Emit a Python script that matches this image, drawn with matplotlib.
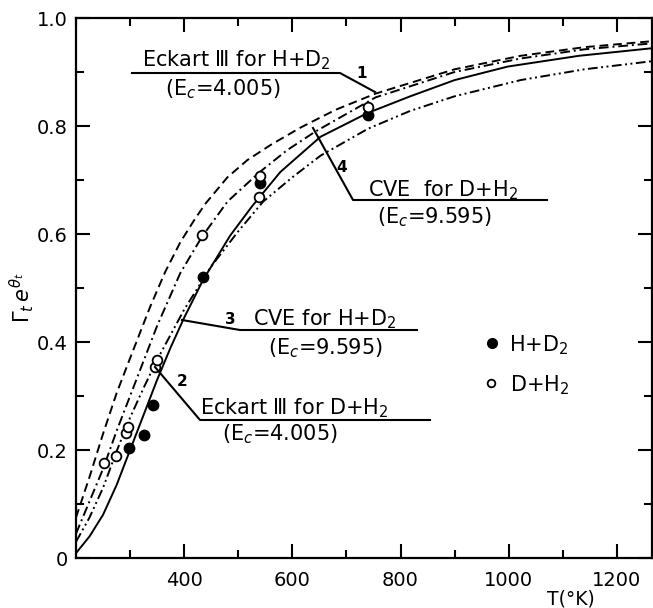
import numpy as np
import matplotlib.pyplot as plt
from matplotlib.ticker import MultipleLocator

# --- dane ---
# krzywa 1: Eckart III dla H+D2 (kreskowana)
T1 = [200, 225, 250, 275, 300, 337, 365, 393, 420, 440, 480, 517, 560, 615, 680, 754, 900, 1022, 1140, 1265]
G1 = [0.075, 0.15, 0.23, 0.305, 0.37, 0.465, 0.53, 0.585, 0.628, 0.657, 0.705, 0.737, 0.765, 0.797, 0.83, 0.86, 0.905, 0.93, 0.946, 0.957]

# krzywa 4: CVE dla D+H2 (kreska-kropka)
T4 = [200, 225, 250, 275, 300, 325, 350, 393, 433, 480, 540, 590, 643, 754, 900, 1022, 1140, 1265]
G4 = [0.045, 0.105, 0.165, 0.235, 0.3, 0.365, 0.43, 0.528, 0.595, 0.66, 0.715, 0.755, 0.79, 0.853, 0.9, 0.925, 0.942, 0.953]

# krzywa 2: Eckart III dla D+H2 (kreska-kropka-kropka)
T2 = [200, 225, 250, 276, 300, 325, 350, 400, 450, 500, 546, 600, 652, 740, 818, 900, 1022, 1140, 1265]
G2 = [0.03, 0.075, 0.13, 0.2, 0.26, 0.315, 0.367, 0.46, 0.54, 0.605, 0.66, 0.705, 0.745, 0.795, 0.828, 0.855, 0.885, 0.905, 0.92]

# krzywa 3: CVE dla H+D2 (ciagla)
T3 = [200, 225, 250, 275, 300, 325, 350, 375, 400, 435, 485, 526, 578, 652, 739, 818, 900, 998, 1130, 1265]
G3 = [0.009, 0.04, 0.08, 0.135, 0.2, 0.265, 0.33, 0.39, 0.445, 0.515, 0.597, 0.652, 0.715, 0.78, 0.824, 0.855, 0.885, 0.91, 0.93, 0.944]

# punkty doswiadczalne
T_HD2 = [298, 326, 342, 435, 541, 739]
G_HD2 = [0.204, 0.228, 0.283, 0.520, 0.694, 0.820]
T_DH2 = [252, 274, 293, 296, 346, 350, 433, 539, 541, 739]
G_DH2 = [0.176, 0.189, 0.231, 0.243, 0.354, 0.367, 0.598, 0.669, 0.707, 0.835]

x_ticks = [400, 600, 800, 1000, 1200]
y_ticks = [0, 0.2, 0.4, 0.6, 0.8, 1.0]
y_labels = ['0', '0.2', '0.4', '0.6', '0.8', '1.0']

fig = plt.figure(figsize=(6.53, 6.08), dpi=100)
ax = fig.add_axes([76/653, 50/608, 576/653, 540/608])

lw = 1.4
ax.plot(T1, G1, color='k', lw=lw, linestyle=(0, (4.5, 2.5)))
ax.plot(T4, G4, color='k', lw=lw, linestyle=(0, (5, 2, 1, 2)))
ax.plot(T2, G2, color='k', lw=lw, linestyle=(0, (5, 1.8, 1, 1.8, 1, 1.8)))
ax.plot(T3, G3, color='k', lw=lw, linestyle='-')

ax.plot(T_HD2, G_HD2, 'o', color='k', ms=7.5)
ax.plot(T_DH2, G_DH2, 'o', mfc='white', mec='k', mew=1.3, ms=7)

ax.set_xlim(200, 1265)
ax.set_ylim(0, 1.0)
ax.set_xticks(x_ticks)
ax.set_yticks(y_ticks)
ax.set_yticklabels(y_labels)
ax.xaxis.set_minor_locator(MultipleLocator(100))
ax.yaxis.set_minor_locator(MultipleLocator(0.1))
ax.tick_params(which='both', direction='in', top=True, right=True, labelsize=14, width=1.5)
ax.tick_params(which='major', length=10)
ax.tick_params(which='minor', length=6)
ax.tick_params(axis='x', which='major', pad=9)
ax.tick_params(axis='y', which='major', pad=6)
for s in ax.spines.values():
    s.set_linewidth(1.6)

# --- opisy krzywych (wspolrzedne w pikselach od gory) ---
def px(x, y):
    return ax.transAxes.inverted().transform(fig.transFigure.transform((x / 653, 1 - y / 608)))

def txt(x, y, s, **kw):
    ax.text(*px(x, y), s, transform=ax.transAxes, fontsize=kw.pop('fontsize', 15), clip_on=False, **kw)

def line(pts):
    xy = np.array([px(x, y) for x, y in pts])
    ax.plot(xy[:, 0], xy[:, 1], color='k', lw=1.5, transform=ax.transAxes, clip_on=False)

txt(22, 298, r'$\Gamma_t\,e^{\theta_t}$', rotation=90, ha='center', va='center', fontsize=15)
txt(571, 599, 'T(°K)', ha='center', va='center', fontsize=13.5)

# 1
txt(142, 66, 'Eckart Ⅲ for H+D$_2$', va='baseline')
txt(165, 89, '(E$_c$=4.005)', va='center')
line([(132, 73), (340, 73), (375, 92)])
txt(362, 73, '1', va='center', ha='center', fontsize=11, fontweight='bold')

# 4
txt(368, 196, 'CVE  for D+H$_2$', va='baseline')
txt(377, 217, '(E$_c$=9.595)', va='center')
line([(313, 128), (353, 200), (547, 200)])
txt(342, 167, '4', va='center', ha='center', fontsize=11, fontweight='bold')

# 3
txt(253, 325, 'CVE for H+D$_2$', va='baseline')
txt(268, 348, '(E$_c$=9.595)', va='center')
line([(182, 320), (240, 330), (417, 330)])
txt(230, 319, '3', va='center', ha='center', fontsize=11, fontweight='bold')

# 2
txt(200, 414, 'Eckart Ⅲ for D+H$_2$', va='baseline')
txt(222, 434, '(E$_c$=4.005)', va='center')
line([(155, 367), (200, 420), (430, 420)])
txt(182, 382, '2', va='center', ha='center', fontsize=11, fontweight='bold')

# legenda
ax.plot(*px(492, 343), 'o', color='k', ms=7, transform=ax.transAxes, clip_on=False)
txt(509, 345, 'H+D$_2$', va='center')
ax.plot(*px(491, 383), 'o', mfc='white', mec='k', mew=1.3, ms=5.5, transform=ax.transAxes, clip_on=False)
txt(510, 385, 'D+H$_2$', va='center')

fig.savefig('out.png', dpi=100)
